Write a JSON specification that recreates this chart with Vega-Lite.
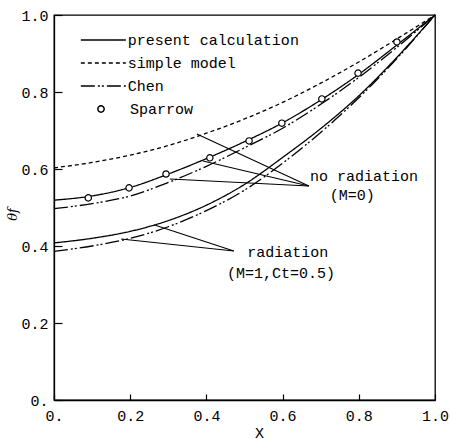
{
  "$schema": "https://vega.github.io/schema/vega-lite/v6.json",
  "width": 381,
  "height": 385,
  "autosize": {"type": "none"},
  "padding": {"left": 54, "top": 15, "right": 15, "bottom": 41},
  "background": "white",
  "config": {
    "font": "Liberation Mono",
    "view": {"stroke": "black", "strokeWidth": 1.3},
    "axis": {
      "grid": false,
      "domainColor": "black",
      "domainWidth": 1.3,
      "tickColor": "black",
      "tickWidth": 1.2,
      "labelColor": "black",
      "labelFont": "Liberation Mono",
      "labelFontSize": 15,
      "titleColor": "black",
      "titleFontWeight": "normal"
    },
    "legend": {
      "labelFont": "Liberation Mono",
      "labelFontSize": 15,
      "labelColor": "black",
      "labelLimit": 400
    }
  },
  "datasets": {
    "curves": [
      {"x": 0.0, "theta": 0.519, "model": "present calculation", "case": "no radiation"},
      {"x": 0.1, "theta": 0.530, "model": "present calculation", "case": "no radiation"},
      {"x": 0.2, "theta": 0.552, "model": "present calculation", "case": "no radiation"},
      {"x": 0.3, "theta": 0.587, "model": "present calculation", "case": "no radiation"},
      {"x": 0.4, "theta": 0.627, "model": "present calculation", "case": "no radiation"},
      {"x": 0.5, "theta": 0.671, "model": "present calculation", "case": "no radiation"},
      {"x": 0.6, "theta": 0.720, "model": "present calculation", "case": "no radiation"},
      {"x": 0.7, "theta": 0.779, "model": "present calculation", "case": "no radiation"},
      {"x": 0.8, "theta": 0.846, "model": "present calculation", "case": "no radiation"},
      {"x": 0.9, "theta": 0.922, "model": "present calculation", "case": "no radiation"},
      {"x": 1.0, "theta": 1.0, "model": "present calculation", "case": "no radiation"},
      {"x": 0.0, "theta": 0.497, "model": "Chen", "case": "no radiation"},
      {"x": 0.1, "theta": 0.510, "model": "Chen", "case": "no radiation"},
      {"x": 0.2, "theta": 0.530, "model": "Chen", "case": "no radiation"},
      {"x": 0.3, "theta": 0.565, "model": "Chen", "case": "no radiation"},
      {"x": 0.4, "theta": 0.607, "model": "Chen", "case": "no radiation"},
      {"x": 0.5, "theta": 0.655, "model": "Chen", "case": "no radiation"},
      {"x": 0.6, "theta": 0.706, "model": "Chen", "case": "no radiation"},
      {"x": 0.7, "theta": 0.768, "model": "Chen", "case": "no radiation"},
      {"x": 0.8, "theta": 0.838, "model": "Chen", "case": "no radiation"},
      {"x": 0.9, "theta": 0.916, "model": "Chen", "case": "no radiation"},
      {"x": 1.0, "theta": 1.0, "model": "Chen", "case": "no radiation"},
      {"x": 0.0, "theta": 0.603, "model": "simple model", "case": "no radiation"},
      {"x": 0.1, "theta": 0.617, "model": "simple model", "case": "no radiation"},
      {"x": 0.2, "theta": 0.636, "model": "simple model", "case": "no radiation"},
      {"x": 0.3, "theta": 0.661, "model": "simple model", "case": "no radiation"},
      {"x": 0.4, "theta": 0.693, "model": "simple model", "case": "no radiation"},
      {"x": 0.5, "theta": 0.730, "model": "simple model", "case": "no radiation"},
      {"x": 0.6, "theta": 0.773, "model": "simple model", "case": "no radiation"},
      {"x": 0.7, "theta": 0.823, "model": "simple model", "case": "no radiation"},
      {"x": 0.8, "theta": 0.878, "model": "simple model", "case": "no radiation"},
      {"x": 0.9, "theta": 0.938, "model": "simple model", "case": "no radiation"},
      {"x": 1.0, "theta": 1.0, "model": "simple model", "case": "no radiation"},
      {"x": 0.0, "theta": 0.408, "model": "present calculation", "case": "radiation"},
      {"x": 0.1, "theta": 0.420, "model": "present calculation", "case": "radiation"},
      {"x": 0.2, "theta": 0.438, "model": "present calculation", "case": "radiation"},
      {"x": 0.3, "theta": 0.466, "model": "present calculation", "case": "radiation"},
      {"x": 0.4, "theta": 0.506, "model": "present calculation", "case": "radiation"},
      {"x": 0.5, "theta": 0.560, "model": "present calculation", "case": "radiation"},
      {"x": 0.6, "theta": 0.630, "model": "present calculation", "case": "radiation"},
      {"x": 0.7, "theta": 0.705, "model": "present calculation", "case": "radiation"},
      {"x": 0.8, "theta": 0.790, "model": "present calculation", "case": "radiation"},
      {"x": 0.9, "theta": 0.890, "model": "present calculation", "case": "radiation"},
      {"x": 1.0, "theta": 1.0, "model": "present calculation", "case": "radiation"},
      {"x": 0.0, "theta": 0.386, "model": "Chen", "case": "radiation"},
      {"x": 0.1, "theta": 0.400, "model": "Chen", "case": "radiation"},
      {"x": 0.2, "theta": 0.420, "model": "Chen", "case": "radiation"},
      {"x": 0.3, "theta": 0.450, "model": "Chen", "case": "radiation"},
      {"x": 0.4, "theta": 0.492, "model": "Chen", "case": "radiation"},
      {"x": 0.5, "theta": 0.545, "model": "Chen", "case": "radiation"},
      {"x": 0.6, "theta": 0.615, "model": "Chen", "case": "radiation"},
      {"x": 0.7, "theta": 0.695, "model": "Chen", "case": "radiation"},
      {"x": 0.8, "theta": 0.785, "model": "Chen", "case": "radiation"},
      {"x": 0.9, "theta": 0.887, "model": "Chen", "case": "radiation"},
      {"x": 1.0, "theta": 1.0, "model": "Chen", "case": "radiation"}
    ],
    "sparrow": [
      {"x": 0.09, "theta": 0.525, "source": "Sparrow"},
      {"x": 0.197, "theta": 0.551, "source": "Sparrow"},
      {"x": 0.294, "theta": 0.587, "source": "Sparrow"},
      {"x": 0.409, "theta": 0.629, "source": "Sparrow"},
      {"x": 0.512, "theta": 0.673, "source": "Sparrow"},
      {"x": 0.598, "theta": 0.719, "source": "Sparrow"},
      {"x": 0.703, "theta": 0.782, "source": "Sparrow"},
      {"x": 0.798, "theta": 0.849, "source": "Sparrow"},
      {"x": 0.9, "theta": 0.93, "source": "Sparrow"}
    ],
    "leaders": [
      {"x": 0.375, "y": 0.691, "x2": 0.669, "y2": 0.556},
      {"x": 0.391, "y": 0.621, "x2": 0.669, "y2": 0.556},
      {"x": 0.304, "y": 0.574, "x2": 0.669, "y2": 0.556},
      {"x": 0.176, "y": 0.418, "x2": 0.472, "y2": 0.387},
      {"x": 0.262, "y": 0.455, "x2": 0.472, "y2": 0.387}
    ],
    "notes": [
      {"x": 0.672, "y": 0.582, "label": "no radiation"},
      {"x": 0.724, "y": 0.532, "label": "(M=0)"},
      {"x": 0.507, "y": 0.384, "label": "radiation"},
      {"x": 0.454, "y": 0.330, "label": "(M=1,Ct=0.5)"}
    ]
  },
  "layer": [
    {
      "data": {"name": "curves"},
      "mark": {"type": "line", "color": "black", "strokeWidth": 1.3, "interpolate": "monotone"},
      "encoding": {
        "x": {
          "field": "x", "type": "quantitative",
          "scale": {"domain": [0, 1], "nice": false},
          "axis": {
            "title": "X",
            "titleFont": "Liberation Mono",
            "titleFontSize": 15,
            "titleX": 205,
            "titleY": 32,
            "titleBaseline": "middle",
            "values": [0, 0.1, 0.2, 0.3, 0.4, 0.5, 0.6, 0.7, 0.8, 0.9, 1.0],
            "labelExpr": "datum.value == 0 ? '0.\u00a0' : (round(datum.value * 10) % 2 == 0 ? format(datum.value, '.1f') : '')",
            "labelFlush": false,
            "labelOverlap": false,
            "tickSize": -6,
            "labelPadding": 14
          }
        },
        "y": {
          "field": "theta", "type": "quantitative",
          "scale": {"domain": [0, 1], "nice": false},
          "axis": {
            "title": "θf",
            "titleFont": "DejaVu Serif",
            "titleFontStyle": "italic",
            "titleFontSize": 13,
            "titleX": -42,
            "titleY": 199,
            "titleBaseline": "middle",
            "values": [0, 0.1, 0.2, 0.3, 0.4, 0.5, 0.6, 0.7, 0.8, 0.9, 1.0],
            "labelExpr": "datum.value == 0 ? '0.\u00a0' : (round(datum.value * 10) % 2 == 0 ? format(datum.value, '.1f') : '')",
            "labelFlush": false,
            "labelOverlap": false,
            "tickSize": -8,
            "labelPadding": 14
          }
        },
        "strokeDash": {
          "field": "model", "type": "nominal",
          "scale": {
            "domain": ["present calculation", "simple model", "Chen"],
            "range": [[1, 0], [4, 3], [14, 3, 2, 2, 2, 3]]
          },
          "legend": {
            "title": null,
            "orient": "none",
            "legendX": 41.85,
            "legendY": 17.5,
            "padding": 0,
            "symbolType": "M-4.5,0H4.5",
            "symbolSize": 100,
            "symbolStrokeWidth": 1.3,
            "symbolStrokeColor": "black",
            "symbolFillColor": "transparent",
            "labelOffset": 17,
            "rowPadding": 7
          }
        },
        "detail": {"field": "case"},
        "order": {"field": "x", "type": "quantitative"}
      }
    },
    {
      "data": {"name": "leaders"},
      "mark": {"type": "rule", "color": "black", "strokeWidth": 1.1},
      "encoding": {
        "x": {"field": "x", "type": "quantitative"},
        "y": {"field": "y", "type": "quantitative"},
        "x2": {"field": "x2"},
        "y2": {"field": "y2"}
      }
    },
    {
      "data": {"name": "sparrow"},
      "mark": {"type": "point", "filled": true, "fill": "white", "stroke": "black", "strokeWidth": 1.2, "size": 40, "opacity": 1},
      "encoding": {
        "x": {"field": "x", "type": "quantitative"},
        "y": {"field": "theta", "type": "quantitative"},
        "shape": {
          "field": "source", "type": "nominal",
          "scale": {"domain": ["Sparrow"], "range": ["circle"]},
          "legend": {
            "title": null,
            "orient": "none",
            "legendX": 39.5,
            "legendY": 86.5,
            "padding": 0,
            "symbolType": "circle",
            "symbolSize": 40,
            "labelOffset": 21.5,
            "encode": {
              "symbols": {
                "update": {
                  "fill": {"value": "white"},
                  "stroke": {"value": "black"},
                  "strokeWidth": {"value": 1.2},
                  "opacity": {"value": 1}
                }
              }
            }
          }
        }
      }
    },
    {
      "data": {"name": "notes"},
      "mark": {"type": "text", "align": "left", "baseline": "middle", "font": "Liberation Mono", "fontSize": 15, "color": "black"},
      "encoding": {
        "x": {"field": "x", "type": "quantitative"},
        "y": {"field": "y", "type": "quantitative"},
        "text": {"field": "label"}
      }
    }
  ]
}
